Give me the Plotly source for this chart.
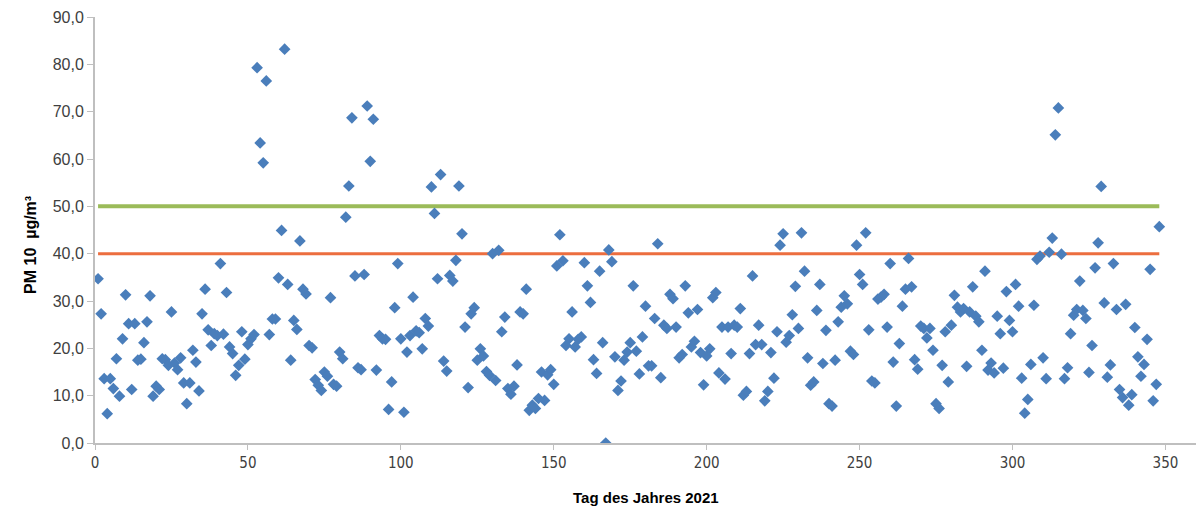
import plotly.graph_objects as go

days = list(range(1, 349))
pm10 = [
    34.7, 27.3, 13.6, 6.2, 13.6, 11.5, 17.8, 9.9, 22.0, 31.3,
    25.2, 11.3, 25.2, 17.5, 17.7, 21.2, 25.6, 31.1, 9.9, 12.0,
    11.3, 17.8, 17.6, 16.4, 27.7, 16.9, 15.5, 18.0, 12.7, 8.3,
    12.7, 19.6, 17.1, 11.0, 27.3, 32.5, 23.9, 20.6, 23.1, 22.7,
    37.9, 23.0, 31.8, 20.3, 18.9, 14.3, 16.4, 23.5, 17.7, 20.8,
    22.0, 22.9, 79.3, 63.4, 59.2, 76.5, 22.9, 26.2, 26.2, 34.9,
    44.9, 83.2, 33.5, 17.5, 25.9, 24.0, 42.7, 32.5, 31.5, 20.6,
    20.1, 13.4, 12.2, 11.1, 15.0, 14.1, 30.7, 12.4, 12.0, 19.2,
    17.8, 47.7, 54.3, 68.7, 35.3, 15.9, 15.5, 35.6, 71.2, 59.5,
    68.4, 15.4, 22.7, 22.0, 21.9, 7.1, 12.9, 28.6, 37.9, 22.0,
    6.5, 19.2, 22.7, 30.8, 23.7, 23.3, 19.9, 26.3, 24.7, 54.1,
    48.5, 34.7, 56.7, 17.3, 15.2, 35.4, 34.2, 38.6, 54.3, 44.2,
    24.5, 11.7, 27.3, 28.6, 17.5, 19.9, 18.4, 15.1, 14.3, 40.0,
    13.2, 40.7, 23.5, 26.6, 11.5, 10.3, 12.0, 16.5, 27.7, 27.3,
    32.5, 6.9, 8.0, 7.3, 9.4, 15.0, 9.0, 14.4, 15.5, 12.4,
    37.4, 44.0, 38.5, 20.6, 22.0, 27.7, 20.3, 21.9, 22.4, 38.1,
    33.2, 29.7, 17.6, 14.7, 36.3, 21.2, 0.0, 40.8, 38.3, 18.2,
    11.1, 13.1, 17.5, 19.2, 21.2, 33.2, 19.4, 14.6, 22.4, 28.9,
    16.3, 16.3, 26.3, 42.1, 13.8, 24.9, 24.2, 31.4, 30.5, 24.5,
    18.0, 18.7, 33.2, 27.5, 20.3, 21.5, 28.2, 19.1, 12.3, 18.4,
    19.9, 30.7, 31.8, 14.8, 24.5, 13.5, 24.5, 18.9, 24.9, 24.5,
    28.4, 10.1, 10.9, 18.9, 35.3, 20.8, 24.9, 20.8, 8.9, 10.9,
    19.1, 13.7, 23.5, 41.8, 44.2, 21.3, 22.7, 27.1, 33.1, 24.2,
    44.4, 36.3, 18.0, 12.2, 12.9, 28.0, 33.5, 16.8, 23.8, 8.3,
    7.8, 17.5, 25.6, 28.7, 31.1, 29.4, 19.4, 18.7, 41.8, 35.6,
    33.5, 44.4, 23.9, 13.1, 12.7, 30.4, 30.8, 31.4, 24.5, 37.9,
    17.1, 7.8, 21.0, 28.9, 32.5, 39.0, 33.0, 17.6, 15.6, 24.7,
    24.2, 22.2, 24.2, 19.6, 8.3, 7.3, 16.4, 23.5, 12.9, 24.9,
    31.2, 28.7, 27.7, 28.4, 16.2, 27.7, 33.0, 26.8, 25.6, 19.6,
    36.3, 15.4, 16.9, 14.8, 26.8, 23.1, 15.8, 32.0, 25.9, 23.5,
    33.5, 28.9, 13.7, 6.3, 9.2, 16.6, 29.1, 38.8, 39.5, 18.0,
    13.6, 40.3, 43.3, 65.1, 70.8, 39.9, 13.6, 15.9, 23.1, 27.0,
    28.2, 34.2, 28.0, 26.3, 14.9, 20.6, 37.0, 42.3, 54.2, 29.6,
    13.9, 16.5, 37.9, 28.2, 11.3, 9.6, 29.3, 8.0, 10.2, 24.4,
    18.2, 14.1, 16.6, 21.9, 36.7, 8.9, 12.4, 45.7,
]
limit_40 = [40.0] * len(days)
limit_50 = [50.0] * len(days)

x_ticks = [0, 50, 100, 150, 200, 250, 300, 350]
y_ticks = [0, 10, 20, 30, 40, 50, 60, 70, 80, 90]

fig = go.Figure()
fig.add_trace(go.Scatter(x=days, y=limit_50, mode="lines",
                         line=dict(color="#9BBB59", width=4), hoverinfo="skip"))
fig.add_trace(go.Scatter(x=days, y=limit_40, mode="lines",
                         line=dict(color="#EC6E3F", width=3), hoverinfo="skip"))
fig.add_trace(go.Scatter(x=days, y=pm10, mode="markers",
                         marker=dict(symbol="diamond", size=9, color="#4A7EBB",
                                     line=dict(width=0))))

fig.update_layout(
    width=1197, height=513,
    margin=dict(l=95, r=1, t=17, b=70),
    paper_bgcolor="white", plot_bgcolor="white",
    showlegend=False,
    separators=",.",
    font=dict(family="Liberation Sans, Arial, sans-serif", color="#404040"),
)
fig.update_xaxes(
    range=[0, 360], tickvals=x_ticks, ticks="outside", ticklen=5,
    tickcolor="#BFBFBF", showline=True, linecolor="#BFBFBF", linewidth=2,
    showgrid=False, zeroline=False,
    tickfont=dict(family="DejaVu Sans Condensed, Liberation Sans Narrow, sans-serif", size=15, color="#404040"),
)
fig.update_yaxes(
    range=[0, 90], tickvals=y_ticks, tickformat=".1f", ticks="outside", ticklen=6,
    tickcolor="#BFBFBF", showline=True, linecolor="#BFBFBF", linewidth=2,
    showgrid=False, zeroline=False,
    tickfont=dict(size=16, color="#404040"),
)
fig.add_annotation(text="<b>PM 10  µg/m³</b>", xref="paper", yref="paper",
                   x=-0.068, y=0.464, textangle=-90, showarrow=False,
                   font=dict(size=16, color="#000000"))
fig.add_annotation(text="<b>Tag des Jahres 2021</b>", xref="paper", yref="paper",
                   x=0.5, y=-0.1275, yanchor="middle", showarrow=False,
                   font=dict(size=15, color="#000000"))

fig.write_html("out.html")
